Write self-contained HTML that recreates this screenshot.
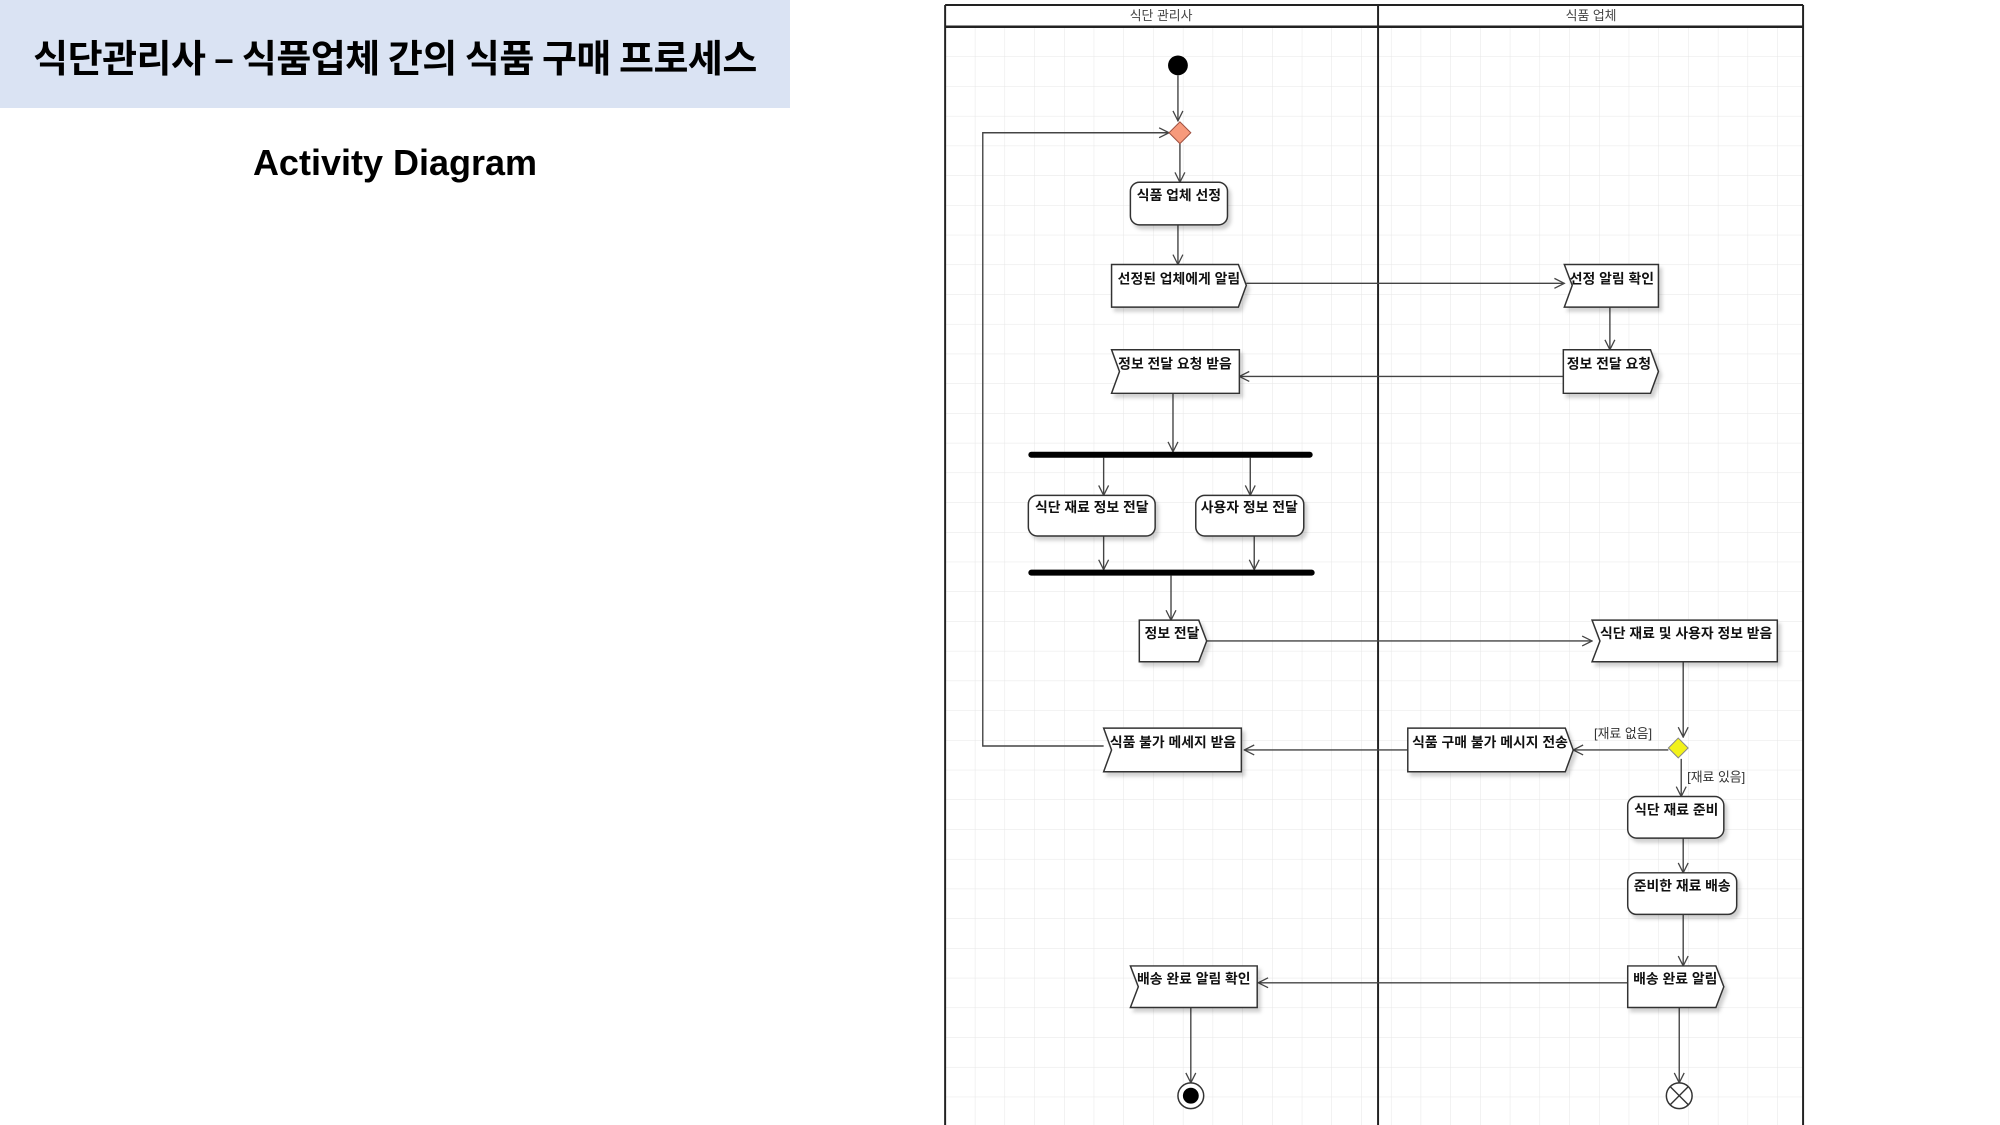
<!DOCTYPE html>
<html><head><meta charset="utf-8"><style>
html,body{margin:0;padding:0;background:#fff;}
body{width:2000px;height:1125px;overflow:hidden;position:relative;font-family:"Liberation Sans","Noto Sans CJK KR",sans-serif;}
#tb{position:absolute;left:0;top:0;width:790px;height:108px;background:#dae3f3;}
#t1{position:absolute;left:0;top:34px;width:790px;text-align:center;font-size:38px;font-weight:bold;color:#000;font-family:"Noto Sans CJK KR",sans-serif;line-height:44px;letter-spacing:-0.5px;}
#t2{position:absolute;left:0;top:141px;width:790px;text-align:center;font-size:36px;font-weight:bold;color:#000;line-height:44px;}
svg{position:absolute;left:0;top:0;}
</style></head><body>
<div id="tb"></div>
<div id="t1">식단관리사 – 식품업체 간의 식품 구매 프로세스</div>
<div id="t2">Activity Diagram</div>
<svg width="2000" height="1125" viewBox="0 0 2000 1125" font-family="Liberation Sans, Noto Sans CJK KR, sans-serif">
<defs>
<pattern id="g" width="30" height="30" patternUnits="userSpaceOnUse" x="954" y="27">
<path d="M30 0 L0 0 0 30" fill="none" stroke="#e6e6e6" stroke-width="1"/>
</pattern>
<marker id="a" markerWidth="12" markerHeight="12" refX="11" refY="6" orient="auto" markerUnits="userSpaceOnUse">
<path d="M1,1 L11,6 L1,11" fill="none" stroke="#444" stroke-width="1.3"/>
</marker>
<filter id="s" x="-10%" y="-10%" width="130%" height="140%"><feDropShadow dx="3" dy="4" stdDeviation="2" flood-color="#000" flood-opacity="0.18"/></filter>
</defs>
<g transform="scale(0.9907)">
<rect x="954" y="27" width="866" height="1110" fill="url(#g)"/>
<g stroke="#222" fill="none" stroke-width="2">
<line x1="954" y1="5" x2="954" y2="1140"/>
<line x1="1391" y1="5" x2="1391" y2="1140"/>
<line x1="1820" y1="5" x2="1820" y2="1140"/>
<line x1="954" y1="5" x2="1820" y2="5"/>
<line x1="954" y1="27" x2="1820" y2="27" stroke-width="2.5"/>
</g>
<g font-size="13" fill="#444" text-anchor="middle">
<text x="1172" y="20">식단 관리사</text>
<text x="1606" y="20">식품 업체</text>
</g>

<g stroke="#444" stroke-width="1.4" fill="none" marker-end="url(#a)">
<line x1="1189" y1="76" x2="1189" y2="122"/>
<line x1="1191" y1="145" x2="1191" y2="184"/>
<line x1="1189" y1="227" x2="1189" y2="267"/>
<line x1="1258" y1="286" x2="1579" y2="286"/>
<line x1="1625" y1="310" x2="1625" y2="353"/>
<line x1="1578" y1="380" x2="1251" y2="380"/>
<line x1="1184" y1="397" x2="1184" y2="456"/>
<line x1="1114" y1="462" x2="1114" y2="500"/>
<line x1="1262" y1="462" x2="1262" y2="500"/>
<line x1="1114" y1="541" x2="1114" y2="575"/>
<line x1="1266" y1="541" x2="1266" y2="575"/>
<line x1="1182" y1="581" x2="1182" y2="626"/>
<line x1="1218" y1="647" x2="1607" y2="647"/>
<line x1="1699" y1="668" x2="1699" y2="744"/>
<line x1="1684" y1="757" x2="1588" y2="757"/>
<line x1="1421" y1="757" x2="1256" y2="757"/>
<line x1="1697" y1="766" x2="1697" y2="804"/>
<line x1="1699" y1="846" x2="1699" y2="881"/>
<line x1="1699" y1="923" x2="1699" y2="975"/>
<line x1="1643" y1="992" x2="1270" y2="992"/>
<line x1="1202" y1="1017" x2="1202" y2="1093"/>
<line x1="1695" y1="1017" x2="1695" y2="1093"/>
<polyline points="1114,753 992,753 992,134 1180,134"/>
</g>

<circle cx="1189" cy="66" r="10" fill="#000"/>
<polygon points="1191,123 1202,134 1191,145 1180,134" fill="#f79a7c" stroke="#a05040" stroke-width="1"/>
<polygon points="1694,745 1704,755 1694,765 1684,755" fill="#f2f21a" stroke="#888" stroke-width="1"/>

<g fill="#fff" stroke="#333" stroke-width="1.5" filter="url(#s)">
<rect x="1141" y="184" width="98" height="43" rx="9"/>
<polygon points="1122,267 1250,267 1258,288 1250,310 1122,310"/>
<polygon points="1579,267 1674,267 1674,310 1579,310 1587,288"/>
<polygon points="1578,353 1666,353 1674,375 1666,397 1578,397"/>
<polygon points="1122,353 1251,353 1251,397 1122,397 1130,375"/>
<rect x="1038" y="500" width="128" height="41" rx="9"/>
<rect x="1207" y="500" width="109" height="41" rx="9"/>
<polygon points="1150,626 1210,626 1218,647 1210,668 1150,668"/>
<polygon points="1607,626 1794,626 1794,668 1607,668 1615,647"/>
<polygon points="1421,735 1580,735 1588,757 1580,779 1421,779"/>
<polygon points="1114,735 1253,735 1253,779 1114,779 1122,757"/>
<rect x="1643" y="804" width="97" height="42" rx="9"/>
<rect x="1643" y="881" width="110" height="42" rx="9"/>
<polygon points="1643,975 1732,975 1740,996 1732,1017 1643,1017"/>
<polygon points="1141,975 1269,975 1269,1017 1141,1017 1149,996"/>
</g>
<rect x="1038" y="456" width="287" height="6" rx="3" fill="#000"/>
<rect x="1038" y="575" width="289" height="6" rx="3" fill="#000"/>

<circle cx="1202" cy="1106" r="13" fill="#fff" stroke="#333" stroke-width="1.5"/>
<circle cx="1202" cy="1106" r="8" fill="#000"/>
<circle cx="1695" cy="1106" r="13" fill="#fff" stroke="#333" stroke-width="1.5"/>
<path d="M1686,1097 L1704,1115 M1704,1097 L1686,1115" stroke="#333" stroke-width="1.4"/>

<g font-size="14" font-weight="bold" fill="#111" text-anchor="middle">
<text x="1190" y="202">식품 업체 선정</text>
<text x="1190" y="286">선정된 업체에게 알림</text>
<text x="1627" y="286">선정 알림 확인</text>
<text x="1624" y="372">정보 전달 요청</text>
<text x="1186" y="372">정보 전달 요청 받음</text>
<text x="1102" y="517">식단 재료 정보 전달</text>
<text x="1261" y="517">사용자 정보 전달</text>
<text x="1183" y="644">정보 전달</text>
<text x="1702" y="644">식단 재료 및 사용자 정보 받음</text>
<text x="1504" y="754">식품 구매 불가 메시지 전송</text>
<text x="1184" y="754">식품 불가 메세지 받음</text>
<text x="1692" y="822">식단 재료 준비</text>
<text x="1698" y="899">준비한 재료 배송</text>
<text x="1691" y="993">배송 완료 알림</text>
<text x="1205" y="993">배송 완료 알림 확인</text>
</g>
<g font-size="13" fill="#333">
<text x="1609" y="745">[재료 없음]</text>
<text x="1703" y="789">[재료 있음]</text>
</g>
</g>
</svg>
</body></html>
